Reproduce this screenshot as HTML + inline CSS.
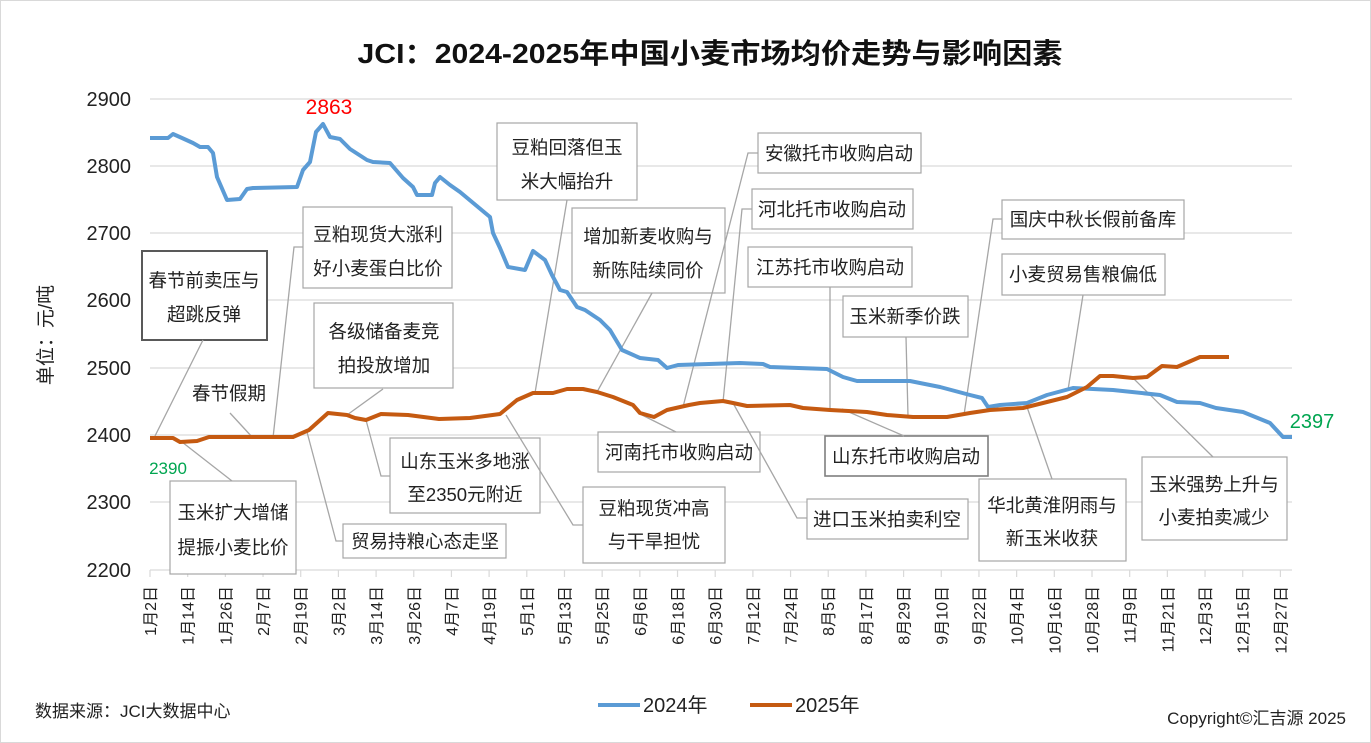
<!DOCTYPE html>
<html><head><meta charset="utf-8"><style>
body{margin:0;background:#fff;}
svg{display:block;font-family:"Liberation Sans","Noto Sans CJK SC",sans-serif;}
.b{fill:#fff;stroke:#a6a6a6;stroke-width:1.2}
.l{stroke:#a6a6a6;stroke-width:1.3;fill:none}
.t{font-size:18.5px;fill:#222;text-anchor:middle}
.g{stroke:#d9d9d9;stroke-width:1.2}
.yl{font-size:20px;fill:#222;text-anchor:end}
.xl{font-size:16px;fill:#222;text-anchor:end}
</style></head><body>
<svg width="1371" height="743" viewBox="0 0 1371 743">
<rect x="0.5" y="0.5" width="1370" height="742" fill="#fff" stroke="#d9d9d9"/>
<text x="710" y="63" text-anchor="middle" font-size="28" font-weight="bold" fill="#111" textLength="705" lengthAdjust="spacingAndGlyphs">JCI：2024-2025年中国小麦市场均价走势与影响因素</text>
<g class="g">
<line x1="150" y1="99" x2="1292" y2="99"/><line x1="150" y1="166" x2="1292" y2="166"/>
<line x1="150" y1="233" x2="1292" y2="233"/><line x1="150" y1="300" x2="1292" y2="300"/>
<line x1="150" y1="368" x2="1292" y2="368"/><line x1="150" y1="435" x2="1292" y2="435"/>
<line x1="150" y1="502" x2="1292" y2="502"/><line x1="150" y1="570" x2="1292" y2="570"/>
</g>
<g class="yl">
<text x="131" y="106">2900</text><text x="131" y="173">2800</text><text x="131" y="240">2700</text>
<text x="131" y="307">2600</text><text x="131" y="375">2500</text><text x="131" y="442">2400</text>
<text x="131" y="509">2300</text><text x="131" y="577">2200</text>
</g>
<text transform="translate(52,335) rotate(-90)" text-anchor="middle" font-size="19" fill="#222">单位：元/吨</text>
<g id="xt" stroke="#d9d9d9" stroke-width="1.2"></g>
<g id="xl"></g>

<rect x="142" y="251" width="125" height="89" fill="#fff" stroke="#595959" stroke-width="2"/>
<text class="t" x="204" y="287">春节前卖压与</text><text class="t" x="204" y="321">超跳反弹</text>
<polyline class="l" points="203,340 155,436"/>
<text class="t" x="229" y="400">春节假期</text>
<polyline class="l" points="230,413 253,438"/>
<rect class="b" x="303" y="207" width="149" height="81"/>
<text class="t" x="378" y="241">豆粕现货大涨利</text><text class="t" x="378" y="275">好小麦蛋白比价</text>
<polyline class="l" points="303,247 294,247 273,438"/>
<rect class="b" x="314" y="303" width="139" height="85"/>
<text class="t" x="384" y="338">各级储备麦竞</text><text class="t" x="384" y="372">拍投放增加</text>
<polyline class="l" points="383,389 347,415"/>
<rect class="b" x="497" y="123" width="140" height="77"/>
<text class="t" x="567" y="154">豆粕回落但玉</text><text class="t" x="567" y="188">米大幅抬升</text>
<polyline class="l" points="567,200 535,393"/>
<rect class="b" x="572" y="208" width="153" height="85"/>
<text class="t" x="648" y="243">增加新麦收购与</text><text class="t" x="648" y="277">新陈陆续同价</text>
<polyline class="l" points="652,293 597,392"/>
<rect class="b" x="758" y="133" width="163" height="40"/>
<text class="t" x="839" y="160">安徽托市收购启动</text>
<polyline class="l" points="758,153 748,153 683,407"/>
<rect class="b" x="752" y="189" width="161" height="40"/>
<text class="t" x="832" y="216">河北托市收购启动</text>
<polyline class="l" points="752,209 742,209 723,402"/>
<rect class="b" x="748" y="247" width="164" height="40"/>
<text class="t" x="830" y="274">江苏托市收购启动</text>
<polyline class="l" points="830,287 830,411"/>
<rect class="b" x="843" y="296" width="125" height="41"/>
<text class="t" x="905" y="323">玉米新季价跌</text>
<polyline class="l" points="906,337 908,416"/>
<rect class="b" x="1002" y="200" width="182" height="39"/>
<text class="t" x="1093" y="226">国庆中秋长假前备库</text>
<polyline class="l" points="1002,219 993,219 964,415"/>
<rect class="b" x="1002" y="254" width="163" height="41"/>
<text class="t" x="1083" y="281">小麦贸易售粮偏低</text>
<polyline class="l" points="1083,295 1068,390"/>
<rect class="b" x="170" y="481" width="126" height="93"/>
<text class="t" x="233" y="519">玉米扩大增储</text><text class="t" x="233" y="554">提振小麦比价</text>
<polyline class="l" points="232,481 182,442"/>
<rect class="b" x="343" y="524" width="163" height="34"/>
<text class="t" x="425" y="548">贸易持粮心态走坚</text>
<polyline class="l" points="343,541 336,541 307,432"/>
<rect class="b" x="390" y="438" width="150" height="75"/>
<text class="t" x="465" y="468">山东玉米多地涨</text><text class="t" x="465" y="501">至2350元附近</text>
<polyline class="l" points="390,476 381,476 366,420"/>
<rect class="b" x="583" y="487" width="142" height="76"/>
<text class="t" x="654" y="515">豆粕现货冲高</text><text class="t" x="654" y="548">与干旱担忧</text>
<polyline class="l" points="583,525 573,525 506,415"/>
<rect class="b" x="598" y="432" width="162" height="40"/>
<text class="t" x="679" y="459">河南托市收购启动</text>
<polyline class="l" points="676,432 638,413"/>
<rect class="b" x="807" y="499" width="161" height="40"/>
<text class="t" x="887" y="526">进口玉米拍卖利空</text>
<polyline class="l" points="807,518 797,518 733,403"/>
<rect x="825" y="436" width="163" height="40" fill="#fff" stroke="#7f7f7f" stroke-width="1.6"/>
<text class="t" x="906" y="463">山东托市收购启动</text>
<polyline class="l" points="904,436 842,409"/>
<rect class="b" x="979" y="479" width="147" height="82"/>
<text class="t" x="1052" y="512">华北黄淮阴雨与</text><text class="t" x="1052" y="545">新玉米收获</text>
<polyline class="l" points="1052,479 1027,407"/>
<rect class="b" x="1142" y="457" width="145" height="83"/>
<text class="t" x="1214" y="491">玉米强势上升与</text><text class="t" x="1214" y="524">小麦拍卖减少</text>
<polyline class="l" points="1213,457 1133,378"/>

<polyline fill="none" stroke="#5b9bd5" stroke-width="4" stroke-linejoin="round" points="150,138 168,138 173,134 182,138 193,143 200,147 208,147 213,153 217,177 227,200 240,199 247,189 253,188 297,187 303,170 310,162 316,132 323,124 330,137 340,139 350,149 367,160 373,162 390,163 403,178 413,187 417,195 432,195 435,183 440,177 450,185 460,192 490,217 493,233 500,248 508,267 525,270 533,251 545,260 552,275 560,290 567,292 577,307 585,310 600,320 610,330 622,350 640,358 658,360 667,368 678,365 740,363 763,364 770,367 827,369 843,377 857,381 910,381 940,387 970,395 982,398 988,407 1000,405 1027,403 1047,395 1073,388 1113,390 1160,395 1177,402 1200,403 1216,408 1243,412 1270,423 1283,437 1292,437"/>
<polyline fill="none" stroke="#c55a11" stroke-width="4" stroke-linejoin="round" points="150,438 173,438 180,442 197,441 209,437 293,437 309,430 328,413 347,415 355,418 366,420 381,414 408,415 439,419 470,418 500,414 517,400 533,393 553,393 567,389 583,389 597,392 613,397 633,405 640,413 654,417 667,410 689,405 700,403 723,401 733,403 747,406 790,405 803,408 830,410 867,412 887,415 913,417 947,417 970,413 990,410 1023,408 1047,402 1067,397 1087,387 1100,376 1113,376 1133,378 1147,377 1162,366 1177,367 1200,357 1229,357"/>
<text x="329" y="114" text-anchor="middle" font-size="21" fill="#ff0000">2863</text>
<text x="168" y="474" text-anchor="middle" font-size="17" fill="#00a550">2390</text>
<text x="1312" y="428" text-anchor="middle" font-size="20" fill="#00a550">2397</text>

<line x1="598" y1="705" x2="640" y2="705" stroke="#5b9bd5" stroke-width="4"/>
<text x="643" y="712" font-size="20" fill="#222">2024年</text>
<line x1="750" y1="705" x2="792" y2="705" stroke="#c55a11" stroke-width="4"/>
<text x="795" y="712" font-size="20" fill="#222">2025年</text>
<text x="35" y="717" font-size="17" fill="#222">数据来源：JCI大数据中心</text>
<text x="1346" y="724" text-anchor="end" font-size="17" fill="#222">Copyright©汇吉源 2025</text>
</svg>
<script>
var labs=["1月2日","1月14日","1月26日","2月7日","2月19日","3月2日","3月14日","3月26日","4月7日","4月19日","5月1日","5月13日","5月25日","6月6日","6月18日","6月30日","7月12日","7月24日","8月5日","8月17日","8月29日","9月10日","9月22日","10月4日","10月16日","10月28日","11月9日","11月21日","12月3日","12月15日","12月27日"];
var ns="http://www.w3.org/2000/svg",xt=document.getElementById("xt"),xl=document.getElementById("xl");
for(var i=0;i<labs.length;i++){var x=150+i*37.68;
var ln=document.createElementNS(ns,"line");ln.setAttribute("x1",x);ln.setAttribute("x2",x);ln.setAttribute("y1",570);ln.setAttribute("y2",577);xt.appendChild(ln);
var t=document.createElementNS(ns,"text");t.setAttribute("class","xl");t.setAttribute("transform","translate("+(x+6)+",586) rotate(-90)");t.textContent=labs[i];xl.appendChild(t);}
</script>
</body></html>
